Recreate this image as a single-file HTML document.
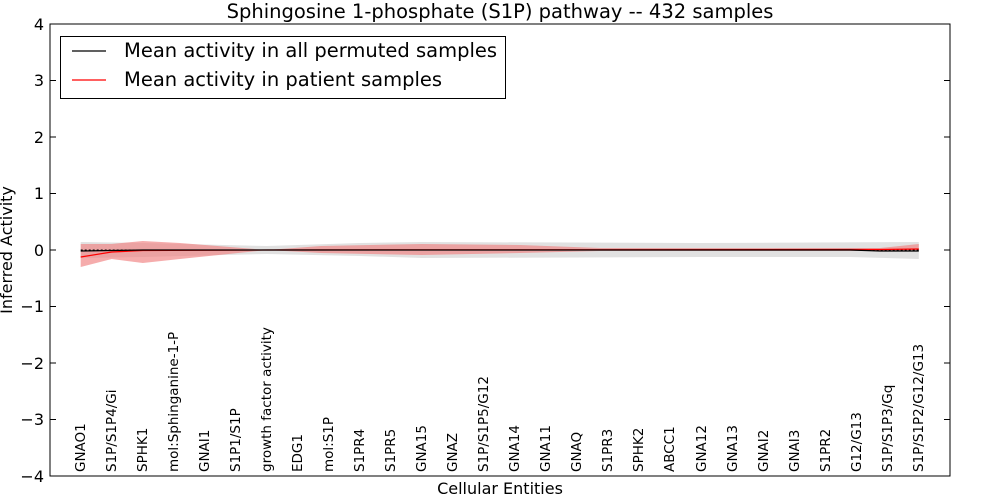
<!DOCTYPE html>
<html><head><meta charset="utf-8"><style>body{margin:0;background:#fff}svg{display:block;font-family:"DejaVu Sans","Liberation Sans",sans-serif}</style></head>
<body>
<svg width="1000" height="500" xmlns="http://www.w3.org/2000/svg">
<rect width="1000" height="500" fill="#fff"/>
<text x="500" y="18" font-size="19.5" text-anchor="middle">Sphingosine 1-phosphate (S1P) pathway -- 432 samples</text>
<polygon fill="#d9d9d9" fill-opacity="0.8" points="80.7,242 142.8,243 266.9,246 360,243 421.9,242 700,243 918.8,242 918.8,259 850,257 700,257 421.9,258 360,256 266.9,254 142.8,257 80.7,258"/>
<polygon fill="#f08080" fill-opacity="0.65" points="80.7,244 111.7,244 142.8,241 180,243 266.9,250 321,246 421.9,244 520,245 600,248 880,248 918.8,244 918.8,250 880,251 600,251 520,253 421.9,255 321,253 266.9,250 180,259 142.8,263 111.7,259 80.7,267"/>
<line x1="80.7" y1="250" x2="918.8" y2="250" stroke="#000" stroke-width="1" stroke-dasharray="2,2"/>
<polyline fill="none" stroke="#f00" stroke-width="1.2" points="80.7,257 111.7,252 142.8,250.5 266.9,250 880,249.5 918.8,249"/>
<polyline fill="none" stroke="#000" stroke-width="1.2" points="80.7,251 111.7,250.5 142.8,250 850,250 880,251 918.8,251"/>
<rect x="50" y="24" width="900" height="452" fill="none" stroke="#000" stroke-width="1"/>
<g font-size="16" text-anchor="end">
<text x="44" y="30">4</text><text x="44" y="86">3</text><text x="44" y="143">2</text><text x="44" y="199">1</text><text x="44" y="256">0</text>
<text x="44" y="312">−1</text><text x="44" y="369">−2</text><text x="44" y="425">−3</text><text x="44" y="482">−4</text>
</g>
<g stroke="#000">
<line x1="50" y1="80.5" x2="56" y2="80.5"/><line x1="50" y1="137" x2="56" y2="137"/><line x1="50" y1="193.5" x2="56" y2="193.5"/><line x1="50" y1="250" x2="56" y2="250"/><line x1="50" y1="306.5" x2="56" y2="306.5"/><line x1="50" y1="363" x2="56" y2="363"/><line x1="50" y1="419.5" x2="56" y2="419.5"/>
<line x1="944" y1="80.5" x2="950" y2="80.5"/><line x1="944" y1="137" x2="950" y2="137"/><line x1="944" y1="193.5" x2="950" y2="193.5"/><line x1="944" y1="250" x2="950" y2="250"/><line x1="944" y1="306.5" x2="950" y2="306.5"/><line x1="944" y1="363" x2="950" y2="363"/><line x1="944" y1="419.5" x2="950" y2="419.5"/>
</g>
<text x="12" y="250" font-size="16" text-anchor="middle" transform="rotate(-90 12 250)">Inferred Activity</text>
<text x="500" y="494" font-size="16" text-anchor="middle">Cellular Entities</text>
<g font-size="13.5">
<text transform="translate(85,472) rotate(-90)">GNAO1</text>
<text transform="translate(116,472) rotate(-90)">S1P/S1P4/Gi</text>
<text transform="translate(147,472) rotate(-90)">SPHK1</text>
<text transform="translate(178,472) rotate(-90)">mol:Sphinganine-1-P</text>
<text transform="translate(209,472) rotate(-90)">GNAI1</text>
<text transform="translate(240,472) rotate(-90)">S1P1/S1P</text>
<text transform="translate(271,472) rotate(-90)">growth factor activity</text>
<text transform="translate(302,472) rotate(-90)">EDG1</text>
<text transform="translate(333,472) rotate(-90)">mol:S1P</text>
<text transform="translate(364,472) rotate(-90)">S1PR4</text>
<text transform="translate(395,472) rotate(-90)">S1PR5</text>
<text transform="translate(426,472) rotate(-90)">GNA15</text>
<text transform="translate(457,472) rotate(-90)">GNAZ</text>
<text transform="translate(488,472) rotate(-90)">S1P/S1P5/G12</text>
<text transform="translate(519,472) rotate(-90)">GNA14</text>
<text transform="translate(550,472) rotate(-90)">GNA11</text>
<text transform="translate(581,472) rotate(-90)">GNAQ</text>
<text transform="translate(612,472) rotate(-90)">S1PR3</text>
<text transform="translate(643,472) rotate(-90)">SPHK2</text>
<text transform="translate(674,472) rotate(-90)">ABCC1</text>
<text transform="translate(706,472) rotate(-90)">GNA12</text>
<text transform="translate(737,472) rotate(-90)">GNA13</text>
<text transform="translate(768,472) rotate(-90)">GNAI2</text>
<text transform="translate(799,472) rotate(-90)">GNAI3</text>
<text transform="translate(830,472) rotate(-90)">S1PR2</text>
<text transform="translate(861,472) rotate(-90)">G12/G13</text>
<text transform="translate(892,472) rotate(-90)">S1P/S1P3/Gq</text>
<text transform="translate(923,472) rotate(-90)">S1P/S1P2/G12/G13</text>
</g>
<rect x="60.5" y="36.5" width="445" height="62" fill="#fff" stroke="#000"/>
<line x1="72" y1="51" x2="106" y2="51" stroke="#000" stroke-width="1.2"/>
<line x1="72" y1="80" x2="106" y2="80" stroke="#f00" stroke-width="1.2"/>
<text x="124" y="57" font-size="19.5">Mean activity in all permuted samples</text>
<text x="124" y="86" font-size="19.5">Mean activity in patient samples</text>
</svg>
</body></html>
